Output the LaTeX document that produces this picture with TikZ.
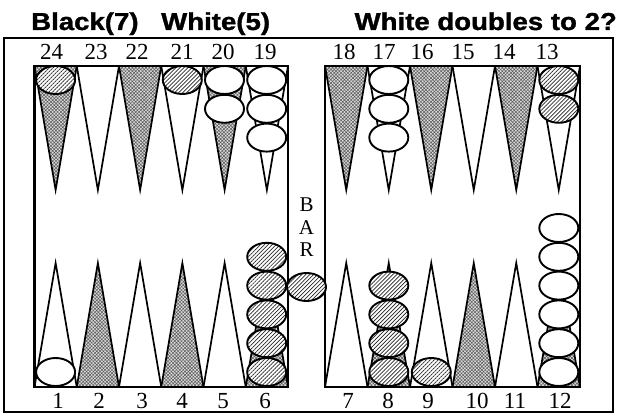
\documentclass[tikz,border=0pt]{standalone}
\usepackage{fontspec}
\setmainfont{Liberation Serif}
\newfontfamily\titlefont{Liberation Sans}[FakeBold=1.2]
\usetikzlibrary{patterns.meta}
\newcommand{\ttl}[1]{\scalebox{1.15}[1.02]{\titlefont\bfseries\fontsize{24}{24}\selectfont #1}}
\newcommand{\chk}[3]{\draw[#3] (#1,#2) ellipse [x radius=19.5, y radius=14];}
\begin{document}
\begin{tikzpicture}[x=1pt,y=-1pt,
  board/.style={line width=2.3pt},
  ptline/.style={line width=1.7pt, line join=miter},
  graypt/.style={ptline, preaction={fill=black!14},
     pattern={Hatch[angle=45,distance=2.4pt,line width=0.5pt]}, pattern color=black!65},
  blk/.style={line width=1.9pt, preaction={fill=white},
     pattern={Lines[angle=45,distance=2.8pt,line width=0.7pt]}, pattern color=black!85},
  wht/.style={line width=1.9pt, fill=white},
  num/.style={font=\fontsize{23}{23}\selectfont, anchor=base, inner sep=0pt},
  barl/.style={font=\fontsize{21}{21}\selectfont, inner sep=0pt}]
\useasboundingbox (0,0) rectangle (624,414);
% titles
\node[anchor=base west, inner sep=0pt] (title1) at (31,30) {\ttl{Black(7)}};
\node[anchor=base west, inner sep=0pt] (title2) at (161,30) {\ttl{White(5)}};
\node[anchor=base east, inner sep=0pt] (title3) at (617,30) {\ttl{White doubles to 2?}};
% outer frame
\draw[line width=2pt] (4,38) rectangle (613,412);
% points
\foreach \bx/\bw in {34.5/42.25,325/42.5}{
  \foreach \k in {0,...,5}{
    \pgfmathsetmacro{\xa}{\bx+\k*\bw}
    \pgfmathsetmacro{\xm}{\xa+\bw/2}
    \pgfmathsetmacro{\xb}{\xa+\bw}
    \ifodd\k
      \draw[ptline] (\xa,66) -- (\xm,190) -- (\xb,66);
      \draw[graypt] (\xa,387) -- (\xm,263) -- (\xb,387) -- cycle;
    \else
      \draw[graypt] (\xa,66) -- (\xm,190) -- (\xb,66) -- cycle;
      \draw[ptline] (\xa,387) -- (\xm,263) -- (\xb,387);
    \fi
  }
}
% boards
\draw[board] (34.5,66) rectangle (288,387);
\draw[board] (325,66) rectangle (580,387);
% checkers top
\chk{55.6}{80}{blk}
\chk{182.3}{80}{blk}
\foreach \n in {0,1}{\chk{224.5}{80+28.8*\n}{wht}}
\foreach \n in {0,1,2}{\chk{266.7}{80+28.8*\n}{wht}}
\foreach \n in {0,1,2}{\chk{388.8}{80+28.8*\n}{wht}}
\foreach \n in {0,1}{\chk{558.8}{80+28.8*\n}{blk}}
% checkers bottom
\chk{55.6}{372}{wht}
\foreach \n in {0,...,4}{\chk{266.7}{372-28.8*\n}{blk}}
\foreach \n in {0,...,3}{\chk{388.8}{372-28.8*\n}{blk}}
\chk{431.3}{372}{blk}
\foreach \n in {0,...,5}{\chk{558.8}{372-28.8*\n}{wht}}
% bar
\chk{306.5}{287}{blk}
\node[barl] (barB) at (306.5,205) {B};
\node[barl] (barA) at (306.5,227.5) {A};
\node[barl] (barR) at (306.5,250) {R};
% top labels
\foreach \x/\t in {51.5/24,96/23,137/22,182/21,223/20,265/19,344/18,384/17,422/16,463/15,504/14,547/13}{
  \node[num] (t\t) at (\x,60) {\t};}
% bottom labels
\foreach \x/\t in {58/1,99/2,142/3,182/4,223/5,265/6,348/7,388/8,428/9,477/10,515/11,560/12}{
  \node[num] (b\t) at (\x,408) {\t};}
\end{tikzpicture}
\end{document}
